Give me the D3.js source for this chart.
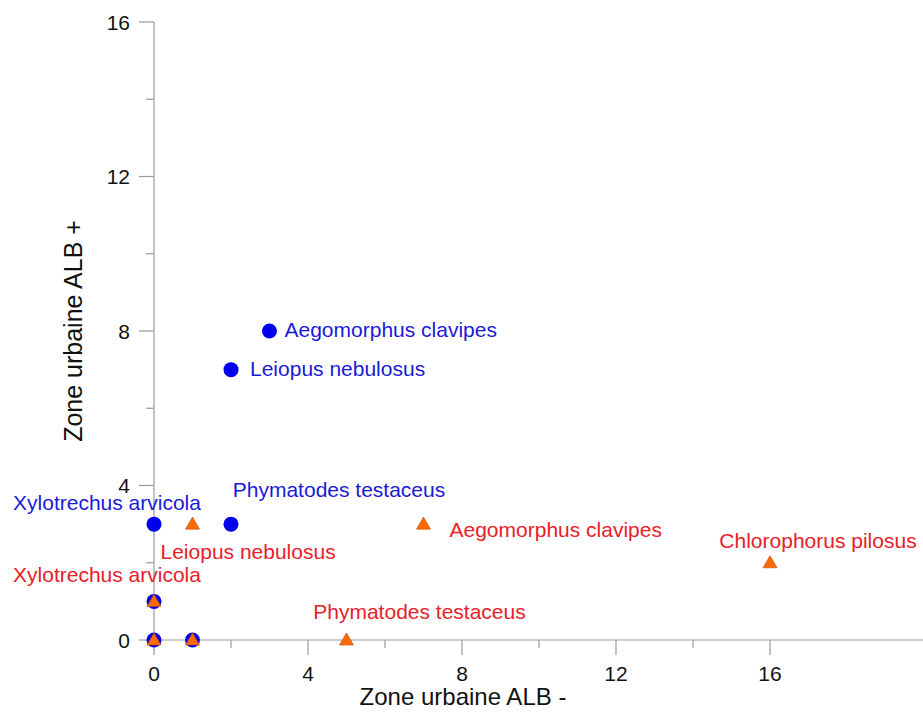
<!DOCTYPE html>
<html><head><meta charset="utf-8">
<script src="https://cdn.jsdelivr.net/npm/d3@7"></script>
<style>body{margin:0;background:#fff}svg{display:block}text{font-family:"Liberation Sans",Arial,sans-serif}</style>
</head><body><svg id="c" width="923" height="716"></svg>
<script>
// Data
const blueNames = ["Aegomorphus clavipes","Leiopus nebulosus","Phymatodes testaceus","Xylotrechus arvicola","","",""];
const blueX = [3,2,2,0,0,0,1];
const blueY = [8,7,3,3,1,0,0];
const redNames = ["Aegomorphus clavipes","Chlorophorus pilosus","Leiopus nebulosus","Xylotrechus arvicola","Phymatodes testaceus","",""];
const redX = [7,16,1,0,5,0,1];
const redY = [3,2,3,1,0,0,0];
const majorTicks = [0,4,8,12,16];
const minorTicks = [2,6,10,14];
const xTitle = "Zone urbaine ALB -";
const yTitle = "Zone urbaine ALB +";

// label placement (pixel offsets from point, anchor)
const blueLabelPos = [[15,6,"start"],[19,6,"start"],[108,-27,"middle"],[-47,-14,"middle"],null,null,null];
const redLabelPos = [[26,13,"start"],[48,-15,"middle"],[-32,35,"start"],[-47,-19,"middle"],[73,-21,"middle"],null,null];

const svg = d3.select("#c");
const x = d3.scaleLinear().domain([0,16]).range([154,770]);
const y = d3.scaleLinear().domain([0,16]).range([640,22]);
const axisCol = "#9a9a9a";
const fs = 21;

// X axis
const gx = svg.append("g");
gx.append("line").attr("x1",x(0)).attr("x2",923).attr("y1",y(0)).attr("y2",y(0)).attr("stroke",axisCol).attr("stroke-width",1.2);
gx.selectAll("line.maj").data(majorTicks).join("line").attr("class","maj")
  .attr("x1",d=>x(d)).attr("x2",d=>x(d)).attr("y1",y(0)).attr("y2",y(0)+15).attr("stroke",axisCol).attr("stroke-width",1.2);
gx.selectAll("line.min").data(minorTicks).join("line").attr("class","min")
  .attr("x1",d=>x(d)).attr("x2",d=>x(d)).attr("y1",y(0)).attr("y2",y(0)+8).attr("stroke",axisCol).attr("stroke-width",1.2);
gx.selectAll("text").data(majorTicks).join("text")
  .attr("x",d=>x(d)).attr("y",y(0)+41).attr("text-anchor","middle").attr("font-size",fs).attr("fill","#111").text(d=>d);
svg.append("text").attr("x",463).attr("y",705).attr("text-anchor","middle").attr("font-size",24).attr("fill","#111").text(xTitle);

// Y axis
const gy = svg.append("g");
gy.append("line").attr("x1",x(0)).attr("x2",x(0)).attr("y1",y(0)).attr("y2",y(16)).attr("stroke",axisCol).attr("stroke-width",1.2);
gy.selectAll("line.maj").data(majorTicks).join("line").attr("class","maj")
  .attr("x1",x(0)-15).attr("x2",x(0)).attr("y1",d=>y(d)).attr("y2",d=>y(d)).attr("stroke",axisCol).attr("stroke-width",1.2);
gy.selectAll("line.min").data(minorTicks).join("line").attr("class","min")
  .attr("x1",x(0)-8).attr("x2",x(0)).attr("y1",d=>y(d)).attr("y2",d=>y(d)).attr("stroke",axisCol).attr("stroke-width",1.2);
gy.selectAll("text").data(majorTicks).join("text")
  .attr("x",x(0)-24).attr("y",d=>y(d)+7.5).attr("text-anchor","end").attr("font-size",fs).attr("fill","#111").text(d=>d);
svg.append("text").attr("transform","translate(82,331) rotate(-90)").attr("text-anchor","middle").attr("font-size",25).attr("fill","#111").text(yTitle);

// points
const blue = blueX.map((v,i)=>({x:v,y:blueY[i],name:blueNames[i],pos:blueLabelPos[i]}));
const red = redX.map((v,i)=>({x:v,y:redY[i],name:redNames[i],pos:redLabelPos[i]}));

svg.append("g").selectAll("circle").data(blue).join("circle")
  .attr("cx",d=>x(d.x)).attr("cy",d=>y(d.y)).attr("r",7.5).attr("fill","#0000ee");
const tri = d3.symbol().type(d3.symbolTriangle).size(85);
svg.append("g").selectAll("path").data(red).join("path")
  .attr("transform",d=>`translate(${x(d.x)},${y(d.y)+1})`).attr("d",tri)
  .attr("fill","#ff6a00").attr("stroke","#c04a00").attr("stroke-width",0.6);

svg.append("g").selectAll("text").data(blue.filter(d=>d.name)).join("text")
  .attr("x",d=>x(d.x)+d.pos[0]).attr("y",d=>y(d.y)+d.pos[1]).attr("text-anchor",d=>d.pos[2])
  .attr("font-size",fs).attr("fill","#1a1ad6").text(d=>d.name);
svg.append("g").selectAll("text").data(red.filter(d=>d.name)).join("text")
  .attr("x",d=>x(d.x)+d.pos[0]).attr("y",d=>y(d.y)+d.pos[1]).attr("text-anchor",d=>d.pos[2])
  .attr("font-size",fs).attr("fill","#e8202a").text(d=>d.name);
</script></body></html>
